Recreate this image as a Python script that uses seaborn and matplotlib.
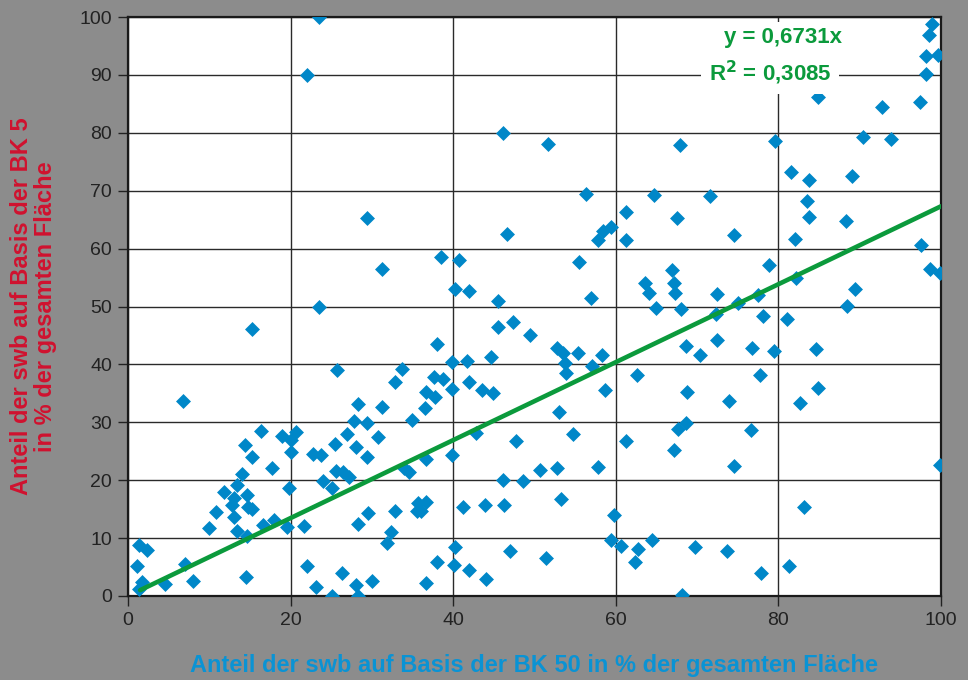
import numpy as np
import pandas as pd
import matplotlib
matplotlib.use("Agg")
import matplotlib.pyplot as plt
import seaborn as sns

# ---- data ----
bk50 = [1.1, 1.3, 2.3, 1.7, 1.4, 4.6, 6.8, 7.0, 8.0, 10.0, 10.8, 11.8, 13.0, 12.8, 13.0,
        13.4, 13.4, 14.0, 14.4, 14.6, 14.7, 15.2, 14.6, 14.5, 15.2, 15.2, 16.4, 16.6, 17.7,
        17.9, 19.0, 19.8, 19.6, 20.0, 20.0, 20.7, 21.6, 22.0, 22.0, 22.7, 23.5, 23.5, 23.8,
        23.1, 24.0, 25.1, 25.1, 25.4, 25.7, 25.6, 26.5, 26.3, 26.9, 27.2, 27.8, 28.1, 28.3,
        28.3, 28.1, 28.3, 29.4, 29.4, 29.4, 29.5, 30.0, 30.8, 31.2, 31.3, 31.8, 32.3, 32.8,
        32.9, 33.7, 33.9, 34.6, 34.9, 35.5, 35.7, 36.5, 36.7, 36.7, 36.7, 36.1, 36.7, 37.6,
        37.8, 38.0, 38.0, 38.5, 38.7, 39.8, 39.9, 39.8, 40.1, 40.2, 40.2, 40.7, 41.2, 41.7,
        41.9, 42.0, 42.0, 42.8, 43.5, 43.9, 44.0, 44.7, 44.9, 45.5, 45.5, 46.1, 46.1, 46.3,
        46.6, 47.0, 47.3, 47.7, 48.6, 49.4, 50.7, 51.4, 51.7, 52.8, 52.8, 53.0, 53.3, 53.5,
        53.8, 53.9, 54.7, 55.3, 55.5, 56.3, 56.9, 57.1, 57.8, 57.8, 58.3, 58.4, 58.7, 59.4,
        59.4, 59.8, 60.7, 61.2, 61.3, 61.3, 62.4, 62.6, 62.7, 63.6, 64.1, 64.5, 64.7, 64.9,
        66.9, 67.1, 67.3, 67.1, 67.5, 67.6, 67.9, 68.0, 68.2, 68.6, 68.6, 68.7, 69.8, 70.3,
        71.6, 72.3, 72.4, 72.5, 73.7, 73.9, 74.5, 74.5, 75.0, 76.6, 76.7, 77.5, 77.7, 77.9,
        78.1, 78.8, 79.5, 79.6, 81.1, 81.3, 81.6, 82.1, 82.2, 82.7, 83.1, 83.5, 83.8, 83.8,
        84.6, 84.9, 84.9, 88.3, 88.4, 89.1, 89.4, 90.4, 92.7, 93.9, 97.4, 97.5, 98.2, 98.2,
        98.5, 98.7, 98.9, 99.6, 99.9, 99.9]
bk5 = [5.2, 8.8, 7.9, 2.5, 1.2, 2.1, 33.6, 5.6, 2.6, 11.7, 14.5, 18.0, 16.9, 15.7, 13.7,
       19.2, 11.2, 21.1, 26.1, 17.4, 15.4, 15.0, 10.4, 3.2, 46.1, 24.0, 28.5, 12.3, 22.1,
       13.1, 27.6, 18.7, 12.0, 26.9, 24.8, 28.4, 12.1, 89.9, 5.2, 24.5, 100.0, 50.0, 24.4,
       1.6, 19.8, 18.6, 0.0, 26.3, 39.0, 21.6, 21.5, 4.0, 27.9, 20.6, 30.2, 25.8, 33.2,
       12.4, 1.9, 0.0, 65.3, 29.8, 24.0, 14.3, 2.6, 27.4, 56.4, 32.6, 9.2, 11.1, 14.7,
       37.0, 39.2, 22.1, 21.5, 30.4, 14.7, 16.0, 32.4, 35.2, 23.7, 16.3, 14.6, 2.3, 37.8,
       34.3, 43.6, 5.8, 58.6, 37.5, 40.4, 35.8, 24.4, 5.4, 8.5, 53.1, 58.1, 15.4, 40.6,
       36.9, 52.7, 4.5, 28.2, 35.6, 15.7, 2.9, 41.3, 35.1, 50.9, 46.4, 80.0, 20.0, 15.7,
       62.6, 7.7, 47.3, 26.7, 19.9, 45.1, 21.8, 6.5, 78.1, 42.8, 22.1, 31.7, 16.7, 41.9,
       40.2, 38.5, 28.0, 41.9, 57.6, 69.4, 51.5, 39.8, 61.5, 22.2, 41.6, 63.1, 35.6, 63.7,
       9.6, 14.0, 8.7, 61.4, 66.4, 26.8, 5.8, 38.2, 8.2, 54.1, 52.3, 9.6, 69.2, 49.7,
       56.3, 54.0, 52.4, 25.2, 65.2, 28.8, 77.9, 49.5, 0.1, 43.1, 29.9, 35.3, 8.4, 41.7,
       69.0, 48.7, 52.2, 44.3, 7.7, 33.7, 62.3, 22.4, 50.6, 28.7, 42.8, 52.0, 38.1, 4.0,
       48.3, 57.2, 42.4, 78.5, 47.8, 5.2, 73.3, 61.6, 54.9, 33.3, 15.4, 68.3, 71.8, 65.5,
       42.6, 86.1, 36.0, 64.7, 50.1, 72.5, 53.1, 79.3, 84.4, 79.0, 85.4, 60.7, 90.2, 93.2,
       96.9, 56.4, 98.8, 93.4, 55.7, 22.6]
slope = 0.6731
r2 = 0.3085
trend_x = [1.5, 100.0]
x_ticks = [0, 20, 40, 60, 80, 100]
y_ticks = [0, 10, 20, 30, 40, 50, 60, 70, 80, 90, 100]

df = pd.DataFrame({"x": bk50, "y": bk5})
trend = pd.DataFrame({"x": trend_x, "y": [slope * v for v in trend_x]})

# ---- style ----
BG = "#8c8c8c"
BLUE = "#0087c8"
GREEN = "#0b9a3c"
RED = "#d0122f"
XBLUE = "#0a93d4"
TICK = "#222222"

sns.set_theme(style="white")
plt.rcParams["font.family"] = ["Liberation Sans", "DejaVu Sans"]

fig = plt.figure(figsize=(9.68, 6.8), dpi=100, facecolor=BG)
ax = fig.add_axes([128 / 968, 1 - 596 / 680, (941 - 128) / 968, (596 - 17) / 680])
ax.set_facecolor("white")

sns.scatterplot(data=df, x="x", y="y", ax=ax, marker="D", s=58, color=BLUE,
                linewidth=0, zorder=3, legend=False)
sns.lineplot(data=trend, x="x", y="y", ax=ax, color=GREEN, linewidth=3.3, zorder=4,
             legend=False)

ax.set_xlim(0, 100)
ax.set_ylim(0, 100)
ax.set_xticks(x_ticks)
ax.set_yticks(y_ticks)
ax.grid(True, color="#2a2a2a", linewidth=1.0, zorder=0)
ax.set_axisbelow(True)
for sp in ax.spines.values():
    sp.set_color("#1a1a1a")
    sp.set_linewidth(1.6)
ax.tick_params(axis="both", which="major", direction="out", length=7.5, width=1.0,
               color=TICK, labelcolor=TICK, labelsize=14, pad=4,
               bottom=True, left=True)

ax.set_xlabel("Anteil der swb auf Basis der BK 50 in % der gesamten Fläche",
              color=XBLUE, fontsize=17, fontweight="bold", labelpad=18)
ax.set_ylabel("Anteil der swb auf Basis der BK 5\nin % der gesamten Fläche",
              color=RED, fontsize=17, fontweight="bold", linespacing=1.05)
ax.yaxis.set_label_coords((57 - 128) / 813, 0.5)

bbox = dict(boxstyle="square,pad=0.25", facecolor="white", edgecolor="none")
ax.text(80.6, 96.4, f"y = {str(slope).replace('.', ',')}x", color=GREEN,
        fontsize=16, fontweight="bold", ha="center", va="center", bbox=bbox, zorder=5)
ax.text(79.0, 90.4, r"R$^{\mathbf{2}}$ = " + str(r2).replace(".", ","), color=GREEN,
        fontsize=16, fontweight="bold", ha="center", va="center",
        bbox=dict(boxstyle="square,pad=0.35", facecolor="white", edgecolor="none"), zorder=5)

fig.savefig("out.png", dpi=100, facecolor=BG)
